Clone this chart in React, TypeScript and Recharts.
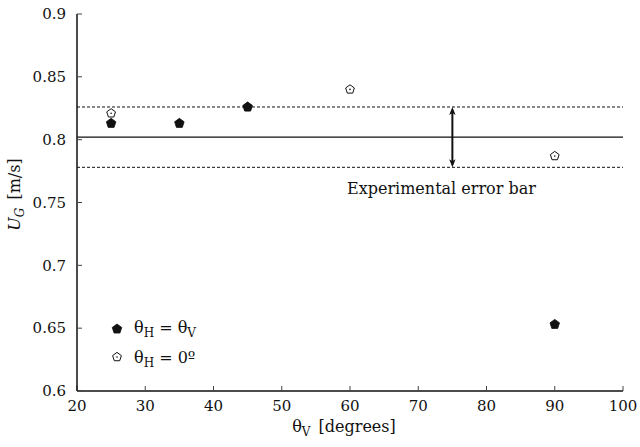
import { ScatterChart, Scatter, XAxis, YAxis, ReferenceLine, ReferenceDot, Label } from "recharts";

// axis ticks
const xTicks = [20, 30, 40, 50, 60, 70, 80, 90, 100];
const yTicks = [0.6, 0.65, 0.7, 0.75, 0.8, 0.85, 0.9];

// θH = θV series
const tiltedAngle = [25, 35, 45, 90];
const tiltedU = [0.813, 0.813, 0.826, 0.653];

// θH = 0° series
const flatAngle = [25, 45, 60, 90];
const flatU = [0.821, 0.826, 0.84, 0.787];

// mean velocity and experimental error band
const meanU = 0.802;
const upperU = 0.826;
const lowerU = 0.778;
const errorBarAngle = 75;
const errorTextAt = { x: 73.4, y: 0.7615 };

const tiltedData = tiltedAngle.map((x, i) => ({ x, y: tiltedU[i] }));
const flatData = flatAngle.map((x, i) => ({ x, y: flatU[i] }));

const FONT = "'DejaVu Serif', 'Liberation Serif', serif";
const INK = "#111";

function pentagonPoints(cx: number, cy: number, r: number) {
  const pts: string[] = [];
  for (let k = 0; k < 5; k++) {
    const a = ((-90 + 72 * k) * Math.PI) / 180;
    pts.push(`${cx + r * Math.cos(a)},${cy + r * Math.sin(a)}`);
  }
  return pts.join(" ");
}

function Pentagon({ cx, cy, filled }: { cx?: number; cy?: number; filled?: boolean }) {
  if (cx == null || cy == null) return null;
  if (filled) {
    return <polygon points={pentagonPoints(cx, cy, 5)} fill={INK} stroke={INK} strokeWidth={0.8} />;
  }
  return (
    <g>
      <polygon points={pentagonPoints(cx, cy, 4.6)} fill="#fff" stroke={INK} strokeWidth={1} />
      <circle cx={cx} cy={cy} r={0.8} fill={INK} />
    </g>
  );
}

function DoubleArrow(props: any) {
  const { x1, y1, x2, y2 } = props;
  const top = Math.min(y1, y2);
  const bot = Math.max(y1, y2);
  const x = x1;
  const h = 8;
  const w = 3.2;
  return (
    <g>
      <line x1={x} y1={top + 3} x2={x2} y2={bot - 3} stroke={INK} strokeWidth={2} />
      <polygon points={`${x},${top} ${x - w},${top + h} ${x},${top + h - 2} ${x + w},${top + h}`} fill={INK} />
      <polygon points={`${x},${bot} ${x - w},${bot - h} ${x},${bot - h + 2} ${x + w},${bot - h}`} fill={INK} />
    </g>
  );
}

const fmt = (v: number) => String(Number(v.toFixed(2)));

export default function App() {
  return (
    <div style={{ position: "absolute", left: 0, top: 0, width: 640, height: 447, background: "#fff" }}>
      <ScatterChart width={640} height={447} margin={{ top: 14, right: 17, bottom: 0, left: 0 }}>
        <XAxis
          type="number"
          dataKey="x"
          domain={[20, 100]}
          ticks={xTicks}
          height={56}
          tickSize={-5}
          tickMargin={14}
          tick={{ fontFamily: FONT, fontSize: 15, fill: INK }}
          axisLine={{ stroke: INK, strokeWidth: 1.5 }}
          tickLine={{ stroke: "#444" }}
        >
          <Label
            content={(p: any) => {
              const vb = p.viewBox;
              return (
                <text
                  x={vb.x + vb.width / 2 - 6}
                  y={vb.y + 41}
                  textAnchor="middle"
                  fontFamily={FONT}
                  fontSize={16}
                  fill={INK}
                >
                  θ<tspan fontSize={12} dy={4}>V</tspan>
                  <tspan dy={-4} dx={8}>[degrees]</tspan>
                </text>
              );
            }}
          />
        </XAxis>
        <XAxis
          xAxisId="top"
          orientation="top"
          type="number"
          domain={[20, 100]}
          ticks={xTicks}
          height={0}
          tickSize={-5}
          tickFormatter={() => ""}
          axisLine={{ stroke: INK, strokeWidth: 1.5 }}
          tickLine={{ stroke: "#444" }}
        />
        <YAxis
          type="number"
          dataKey="y"
          domain={[0.6, 0.9]}
          ticks={yTicks}
          width={77}
          tickSize={-5}
          tickMargin={16}
          tickFormatter={fmt}
          tick={{ fontFamily: FONT, fontSize: 15, fill: INK }}
          axisLine={{ stroke: INK, strokeWidth: 1.5 }}
          tickLine={{ stroke: "#444" }}
        >
          <Label
            content={(p: any) => {
              const vb = p.viewBox;
              const cx = vb.x + 20;
              const cy = vb.y + vb.height / 2 - 8;
              return (
                <text
                  x={cx}
                  y={cy}
                  transform={`rotate(-90, ${cx}, ${cy})`}
                  textAnchor="middle"
                  fontFamily={FONT}
                  fontSize={16}
                  fill={INK}
                >
                  <tspan fontStyle="italic">U</tspan>
                  <tspan fontStyle="italic" fontSize={12} dy={4}>G</tspan>
                  <tspan dy={-4} dx={8}>[m/s]</tspan>
                </text>
              );
            }}
          />
        </YAxis>
        <YAxis
          yAxisId="right"
          orientation="right"
          type="number"
          domain={[0.6, 0.9]}
          ticks={yTicks}
          width={0}
          tickSize={-5}
          tickFormatter={() => ""}
          axisLine={{ stroke: INK, strokeWidth: 1.5 }}
          tickLine={{ stroke: "#444" }}
        />

        <ReferenceLine y={upperU} stroke={INK} strokeWidth={1} strokeDasharray="3 2" />
        <ReferenceLine y={meanU} stroke={INK} strokeWidth={1.2} />
        <ReferenceLine y={lowerU} stroke={INK} strokeWidth={1} strokeDasharray="3 2" />
        <ReferenceLine
          segment={[
            { x: errorBarAngle, y: upperU },
            { x: errorBarAngle, y: lowerU },
          ]}
          shape={DoubleArrow}
        />
        <ReferenceDot
          x={errorTextAt.x}
          y={errorTextAt.y}
          r={0}
          shape={(p: any) => (
            <text
              x={p.cx}
              y={p.cy}
              textAnchor="middle"
              dominantBaseline="central"
              fontFamily={FONT}
              fontSize={16}
              fill={INK}
            >
              Experimental error bar
            </text>
          )}
        />

        <Scatter
          data={flatData}
          isAnimationActive={false}
          shape={(p: any) => <Pentagon cx={p.cx} cy={p.cy} />}
        />
        <Scatter
          data={tiltedData}
          isAnimationActive={false}
          shape={(p: any) => <Pentagon cx={p.cx} cy={p.cy} filled />}
        />
      </ScatterChart>

      {/* legend box, lower left inside the plot */}
      <svg
        width={140}
        height={60}
        style={{ position: "absolute", left: 105, top: 315, overflow: "visible" }}
        fontFamily={FONT}
        fontSize={16}
        fill={INK}
      >
        <Pentagon cx={12} cy={14} filled />
        <text x={29} y={18}>
          θ<tspan fontSize={12} dy={4}>H</tspan>
          <tspan dy={-4}> = θ</tspan>
          <tspan fontSize={12} dy={4}>V</tspan>
        </text>
        <Pentagon cx={12} cy={42} />
        <text x={29} y={48}>
          θ<tspan fontSize={12} dy={4}>H</tspan>
          <tspan dy={-4}> = 0º</tspan>
        </text>
      </svg>
    </div>
  );
}
